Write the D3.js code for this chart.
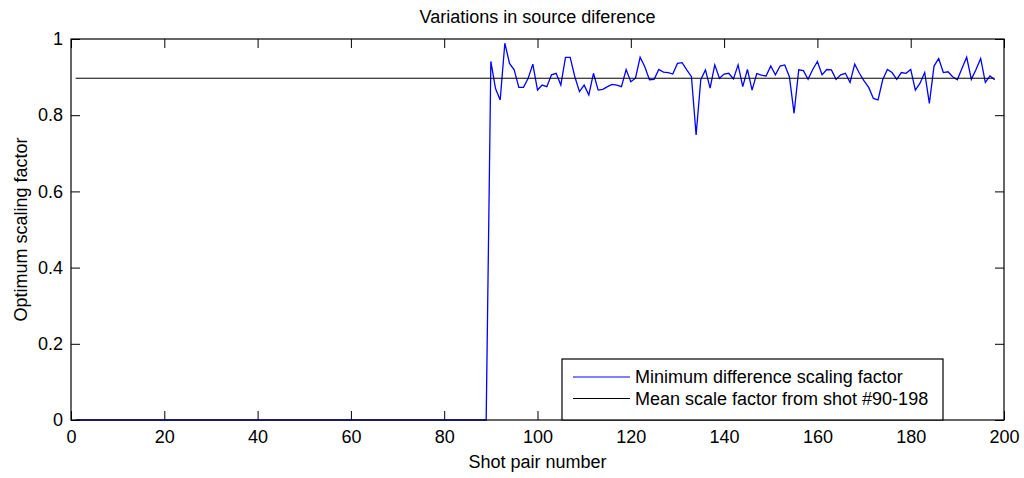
<!DOCTYPE html>
<html>
<head>
<meta charset="utf-8">
<script src="https://cdn.jsdelivr.net/npm/d3@7"></script>
<style>
  body { margin: 0; background: #fff; }
  text { font-family: 'Liberation Sans', Arial, sans-serif; }
</style>
</head>
<body>
<script>
// data
const shots = d3.range(1, 199);
const scaleFactor = [
  0, 0, 0, 0, 0, 0, 0, 0, 0, 0,
  0, 0, 0, 0, 0, 0, 0, 0, 0, 0,
  0, 0, 0, 0, 0, 0, 0, 0, 0, 0,
  0, 0, 0, 0, 0, 0, 0, 0, 0, 0,
  0, 0, 0, 0, 0, 0, 0, 0, 0, 0,
  0, 0, 0, 0, 0, 0, 0, 0, 0, 0,
  0, 0, 0, 0, 0, 0, 0, 0, 0, 0,
  0, 0, 0, 0, 0, 0, 0, 0, 0, 0,
  0, 0, 0, 0, 0, 0, 0, 0, 0,
  // 90 - 99
  0.941, 0.87, 0.84, 0.989, 0.936, 0.919, 0.873, 0.873, 0.897, 0.934,
  // 100 - 109
  0.866, 0.879, 0.875, 0.906, 0.910, 0.879, 0.952, 0.952, 0.901, 0.862,
  // 110 - 119
  0.879, 0.853, 0.910, 0.866, 0.868, 0.875, 0.881, 0.879, 0.875, 0.920,
  // 120 - 129
  0.888, 0.897, 0.952, 0.927, 0.893, 0.894, 0.920, 0.913, 0.912, 0.908,
  // 130 - 139
  0.936, 0.938, 0.919, 0.901, 0.748, 0.893, 0.919, 0.871, 0.932, 0.897,
  // 140 - 149
  0.908, 0.910, 0.895, 0.932, 0.875, 0.920, 0.866, 0.909, 0.905, 0.903,
  // 150 - 159
  0.929, 0.906, 0.929, 0.932, 0.901, 0.805, 0.919, 0.917, 0.894, 0.920,
  // 160 - 169
  0.941, 0.906, 0.920, 0.919, 0.894, 0.906, 0.910, 0.886, 0.934, 0.910,
  // 170 - 179
  0.890, 0.873, 0.844, 0.840, 0.893, 0.920, 0.912, 0.894, 0.912, 0.910,
  // 180 - 189
  0.920, 0.866, 0.884, 0.912, 0.831, 0.929, 0.949, 0.912, 0.914, 0.901,
  // 190 - 198
  0.893, 0.923, 0.952, 0.894, 0.920, 0.949, 0.886, 0.903, 0.893
];
const meanShots = [1, 198];
const meanValue = [0.897, 0.897];
const xTicks = [0, 20, 40, 60, 80, 100, 120, 140, 160, 180, 200];
const yTicks = [0, 0.2, 0.4, 0.6, 0.8, 1];
const legendLabels = ['Minimum difference scaling factor', 'Mean scale factor from shot #90-198'];

// setting canvas
const width = 1024;
const height = 478;
const margin = { top: 39, left: 71, bottom: 58, right: 20 };
const fontSize = '18px';

const svg = d3.select('body').append('svg').attr('width', width).attr('height', height);

const x = d3.scaleLinear().domain([0, 200]).range([margin.left, width - margin.right]);
const y = d3.scaleLinear().domain([0, 1]).range([height - margin.bottom, margin.top]);

// axes with inward ticks on all sides
const styleAxis = (g) => {
  g.select('.domain').remove();
  g.selectAll('line').attr('stroke', '#000');
  g.selectAll('text').attr('fill', '#000').style('font-size', fontSize);
};

svg.append('g')
  .attr('transform', `translate(0, ${y(0)})`)
  .call(d3.axisBottom(x).tickValues(xTicks).tickSize(-9).tickSizeOuter(0).tickPadding(10))
  .call(styleAxis);

svg.append('g')
  .attr('transform', `translate(0, ${y(1)})`)
  .call(d3.axisTop(x).tickValues(xTicks).tickSize(-9).tickSizeOuter(0).tickFormat(''))
  .call(styleAxis);

svg.append('g')
  .attr('transform', `translate(${x(0)}, 0)`)
  .call(d3.axisLeft(y).tickValues(yTicks).tickSize(-9).tickSizeOuter(0).tickPadding(8).tickFormat(d3.format('~g')))
  .call(styleAxis);

svg.append('g')
  .attr('transform', `translate(${x(200)}, 0)`)
  .call(d3.axisRight(y).tickValues(yTicks).tickSize(-9).tickSizeOuter(0).tickFormat(''))
  .call(styleAxis);

// lines
const line = d3.line()
  .x((d) => x(d[0]))
  .y((d) => y(d[1]));

svg.append('path')
  .datum(d3.zip(shots, scaleFactor))
  .attr('fill', 'none')
  .attr('stroke', '#0000ff')
  .attr('stroke-width', 1.3)
  .attr('d', line);

svg.append('path')
  .datum(d3.zip(meanShots, meanValue))
  .attr('fill', 'none')
  .attr('stroke', '#000')
  .attr('stroke-width', 1)
  .attr('d', line);

// frame
svg.append('rect')
  .attr('x', x(0))
  .attr('y', y(1))
  .attr('width', x(200) - x(0))
  .attr('height', y(0) - y(1))
  .attr('fill', 'none')
  .attr('stroke', '#000')
  .attr('stroke-width', 1.2);

// titles
svg.append('text')
  .text('Variations in source diference')
  .attr('x', (x(0) + x(200)) / 2)
  .attr('y', 23)
  .attr('text-anchor', 'middle')
  .style('font-size', fontSize);

svg.append('text')
  .text('Shot pair number')
  .attr('x', (x(0) + x(200)) / 2)
  .attr('y', 468)
  .attr('text-anchor', 'middle')
  .style('font-size', fontSize);

svg.append('text')
  .text('Optimum scaling factor')
  .attr('transform', `translate(27, ${(y(0) + y(1)) / 2}) rotate(-90)`)
  .attr('text-anchor', 'middle')
  .style('font-size', fontSize);

// legend
const legend = svg.append('g').attr('transform', 'translate(562, 359)');
legend.append('rect')
  .attr('width', 381)
  .attr('height', y(0) - 359)
  .attr('fill', '#fff')
  .attr('stroke', '#000')
  .attr('stroke-width', 1.2);

const legendColors = ['#0000ff', '#000'];
const rows = legend.selectAll('g.row')
  .data(legendLabels)
  .enter()
  .append('g')
  .attr('class', 'row')
  .attr('transform', (d, i) => `translate(0, ${18 + i * 21.5})`);

rows.append('line')
  .attr('x1', 11)
  .attr('x2', 68)
  .attr('stroke', (d, i) => legendColors[i])
  .attr('stroke-width', 1.2);

rows.append('text')
  .text((d) => d)
  .attr('x', 73)
  .attr('y', 6)
  .style('font-size', fontSize);
</script>
</body>
</html>
